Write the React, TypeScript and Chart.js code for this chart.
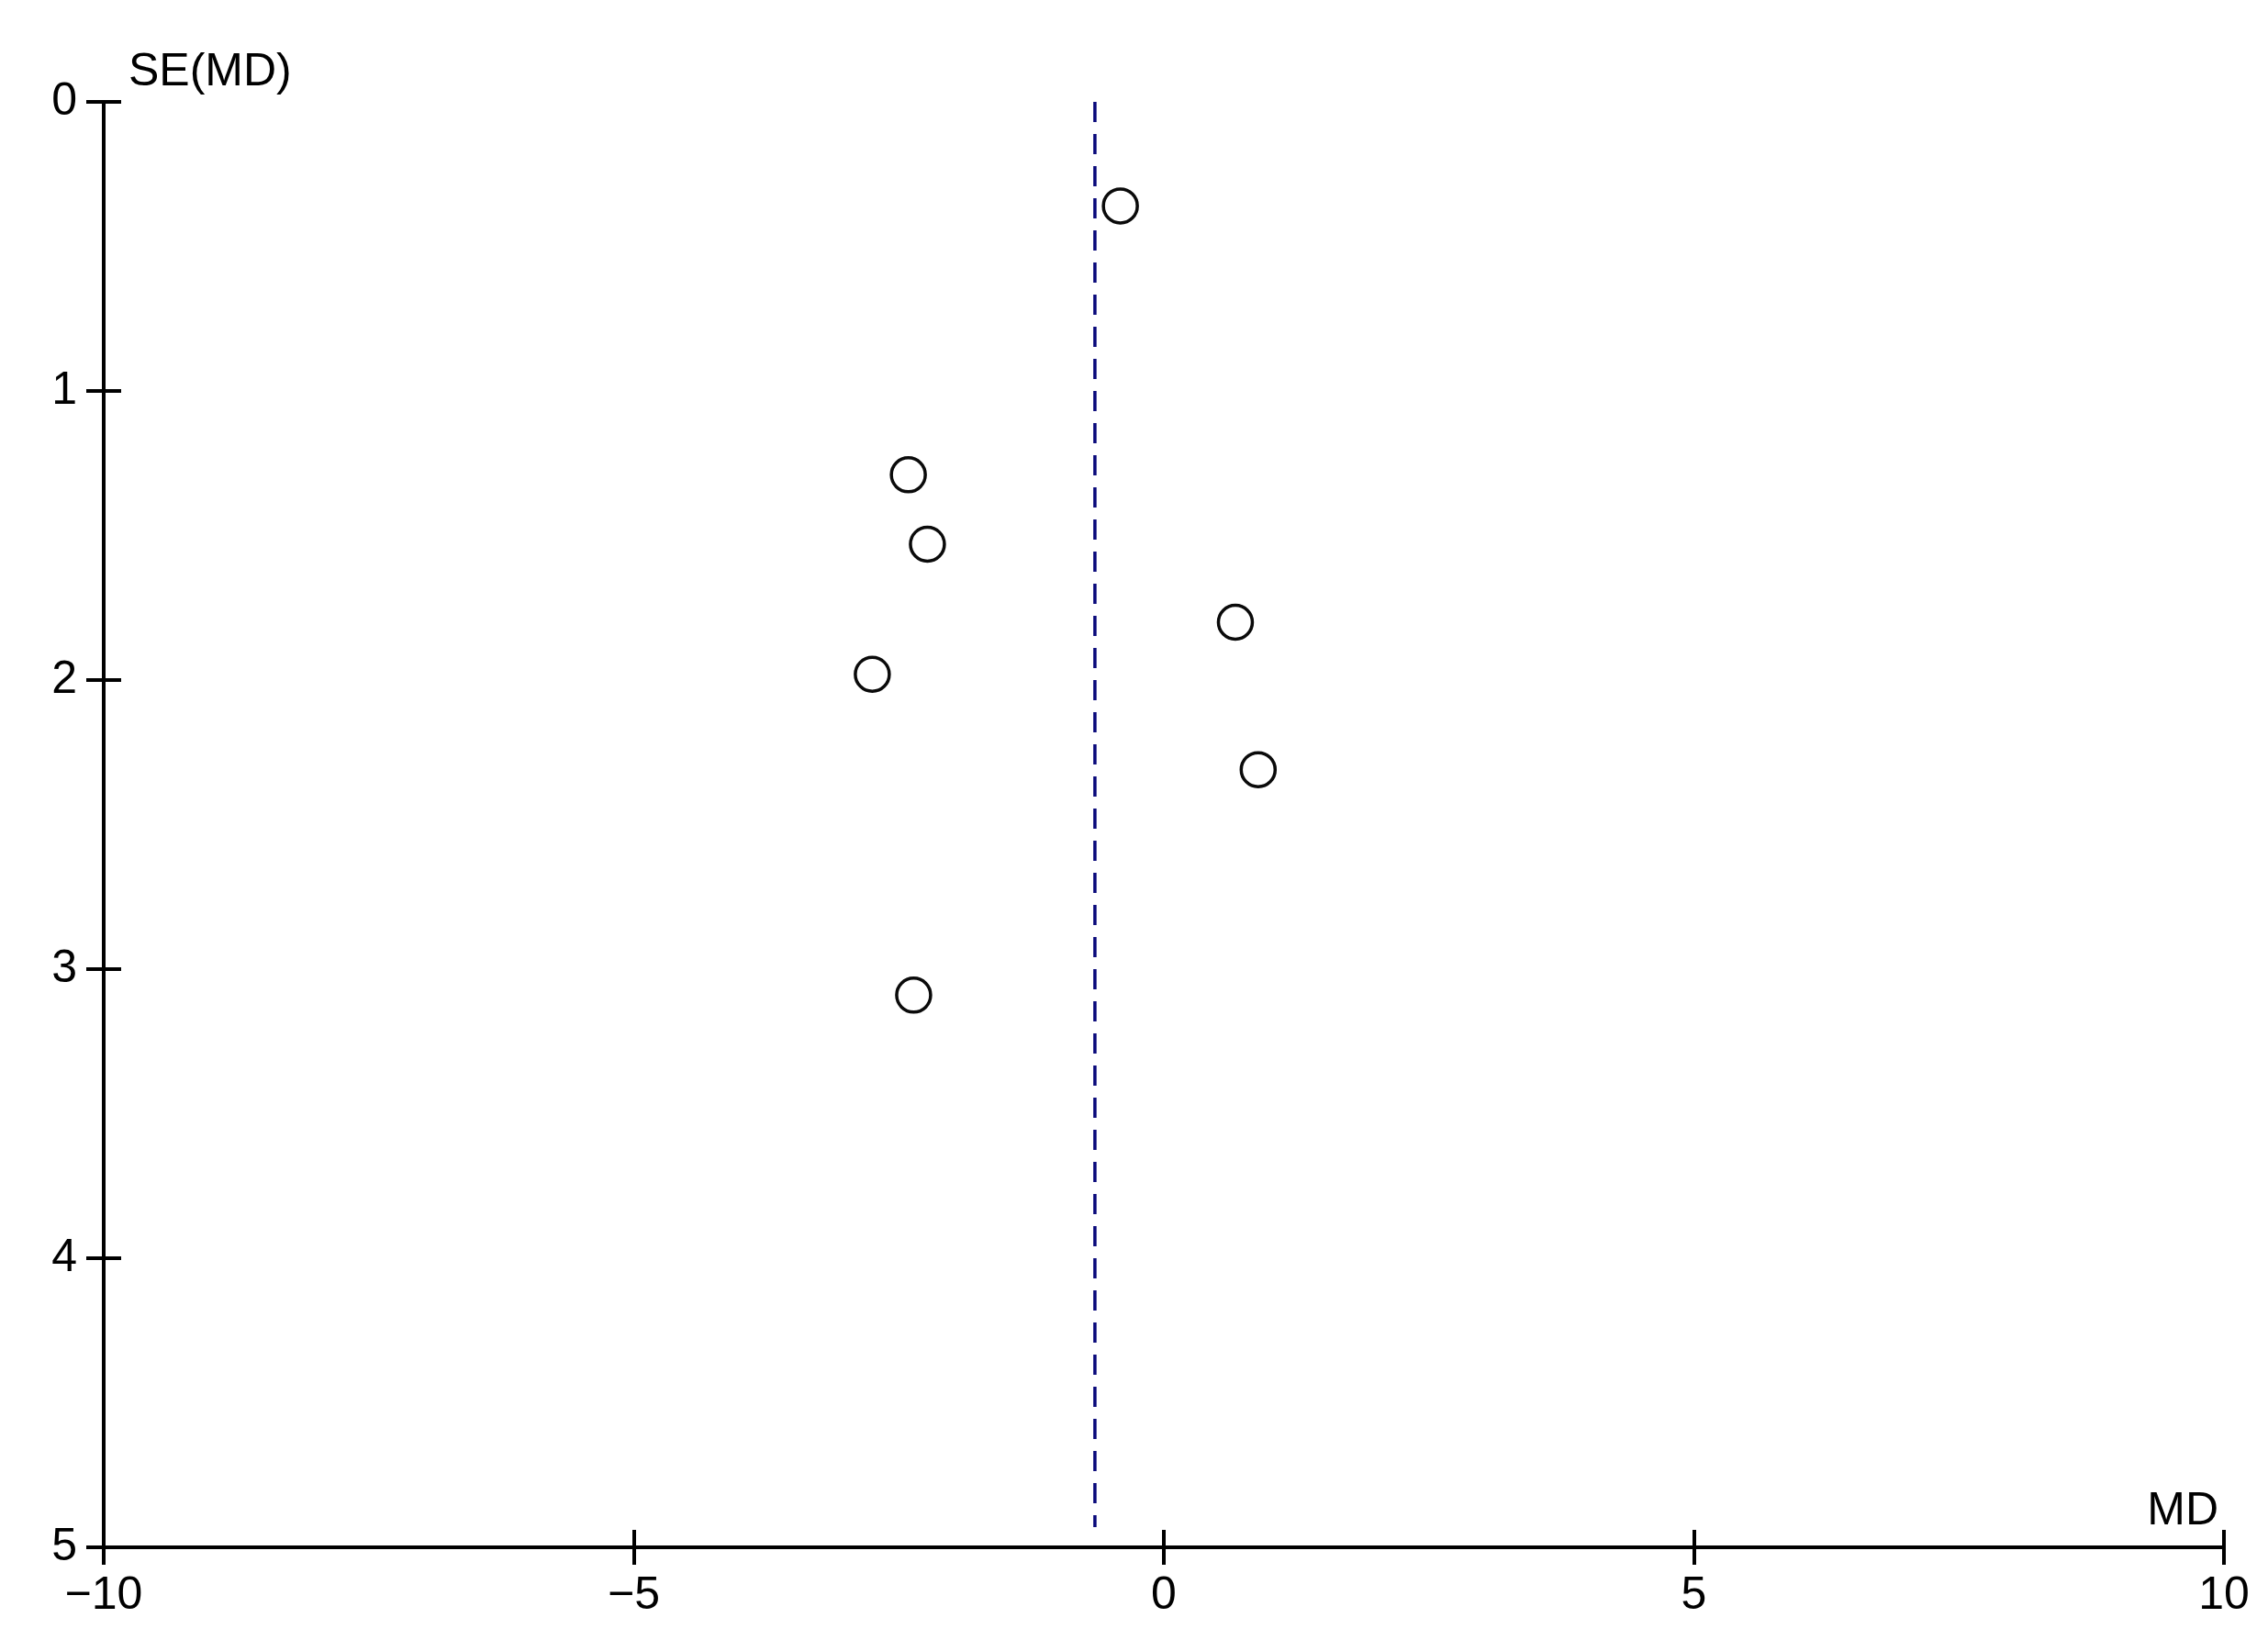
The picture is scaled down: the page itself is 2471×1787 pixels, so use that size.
import React, { useEffect, useRef } from "react";
import { Chart, registerables } from "chart.js";

Chart.register(...registerables);

const studyMD = [-0.41, -2.41, -2.23, 0.675, 0.89, -2.75, -2.36];
const studySE = [0.36, 1.29, 1.53, 1.8, 2.31, 1.98, 3.09];
const pooledMD = -0.65;
const pooledSpan = [0, 4.93];
const xTicks = [-10, -5, 0, 5, 10];
const yTicks = [0, 1, 2, 3, 4, 5];
const xTitle = "MD";
const yTitle = "SE(MD)";

const FONT = '"Liberation Sans", Arial, sans-serif';

const innerTicks = {
  id: "innerTicks",
  afterDraw(chart: any) {
    const { ctx, chartArea, scales } = chart;
    ctx.save();
    ctx.strokeStyle = "#000";
    ctx.lineWidth = 4;
    ctx.beginPath();
    for (const v of xTicks) {
      const px = Math.round(scales.x.getPixelForValue(v));
      ctx.moveTo(px, chartArea.bottom);
      ctx.lineTo(px, chartArea.bottom - 19);
    }
    for (const v of yTicks) {
      const py = Math.round(scales.y.getPixelForValue(v));
      ctx.moveTo(chartArea.left, py);
      ctx.lineTo(chartArea.left + 19, py);
    }
    ctx.stroke();
    ctx.fillStyle = "#000";
    ctx.font = `50px ${FONT}`;
    ctx.textBaseline = "alphabetic";
    ctx.textAlign = "left";
    ctx.fillText(yTitle, chartArea.left + 27, chartArea.top - 18);
    ctx.textAlign = "right";
    ctx.fillText(xTitle, chartArea.right - 6, chartArea.bottom - 25);
    ctx.restore();
  },
};

export default function App() {
  const ref = useRef<HTMLCanvasElement>(null);
  useEffect(() => {
    if (!ref.current) return;
    const chart = new Chart(ref.current, {
      type: "scatter",
      data: {
        datasets: [
          {
            type: "line",
            data: pooledSpan.map((y) => ({ x: pooledMD, y })),
            borderColor: "#08087a",
            borderWidth: 3.5,
            borderDash: [22, 13],
            pointRadius: 0,
            fill: false,
          } as any,
          {
            data: studyMD.map((x, i) => ({ x, y: studySE[i] })),
            pointRadius: 18.5,
            pointBorderWidth: 3.5,
            pointBorderColor: "#0a0a0a",
            pointBackgroundColor: "rgba(255,255,255,0)",
            pointStyle: "circle",
          },
        ],
      },
      options: {
        responsive: false,
        animation: false,
        layout: { padding: { left: 0, top: 111, right: 48, bottom: 0 } },
        plugins: { legend: { display: false }, tooltip: { enabled: false } },
        scales: {
          x: {
            type: "linear",
            min: -10,
            max: 10,
            afterBuildTicks: (s: any) => {
              s.ticks = xTicks.map((v) => ({ value: v }));
            },
            afterFit: (s: any) => {
              s.height = 101;
            },
            grid: { drawOnChartArea: false, drawTicks: true, tickLength: 19, color: "#000", lineWidth: 4 },
            border: { display: true, color: "#000", width: 4 },
            ticks: {
              padding: 4,
              color: "#000",
              font: { family: FONT, size: 50 },
              maxRotation: 0,
              callback: (v: any) => (v < 0 ? "\u2212" + Math.abs(v) : String(v)),
            },
          },
          y: {
            type: "linear",
            reverse: true,
            min: 0,
            max: 5,
            afterBuildTicks: (s: any) => {
              s.ticks = yTicks.map((v) => ({ value: v }));
            },
            afterFit: (s: any) => {
              s.width = 113;
            },
            grid: { drawOnChartArea: false, drawTicks: true, tickLength: 19, color: "#000", lineWidth: 4 },
            border: { display: true, color: "#000", width: 4 },
            ticks: {
              padding: 10,
              color: "#000",
              font: { family: FONT, size: 50 },
            },
          },
        },
      },
      plugins: [innerTicks],
    });
    return () => chart.destroy();
  }, []);
  return (
    <div style={{ position: "absolute", left: 0, top: 0, width: 2471, height: 1787, background: "#fff" }}>
      <canvas ref={ref} width={2471} height={1787} />
    </div>
  );
}
